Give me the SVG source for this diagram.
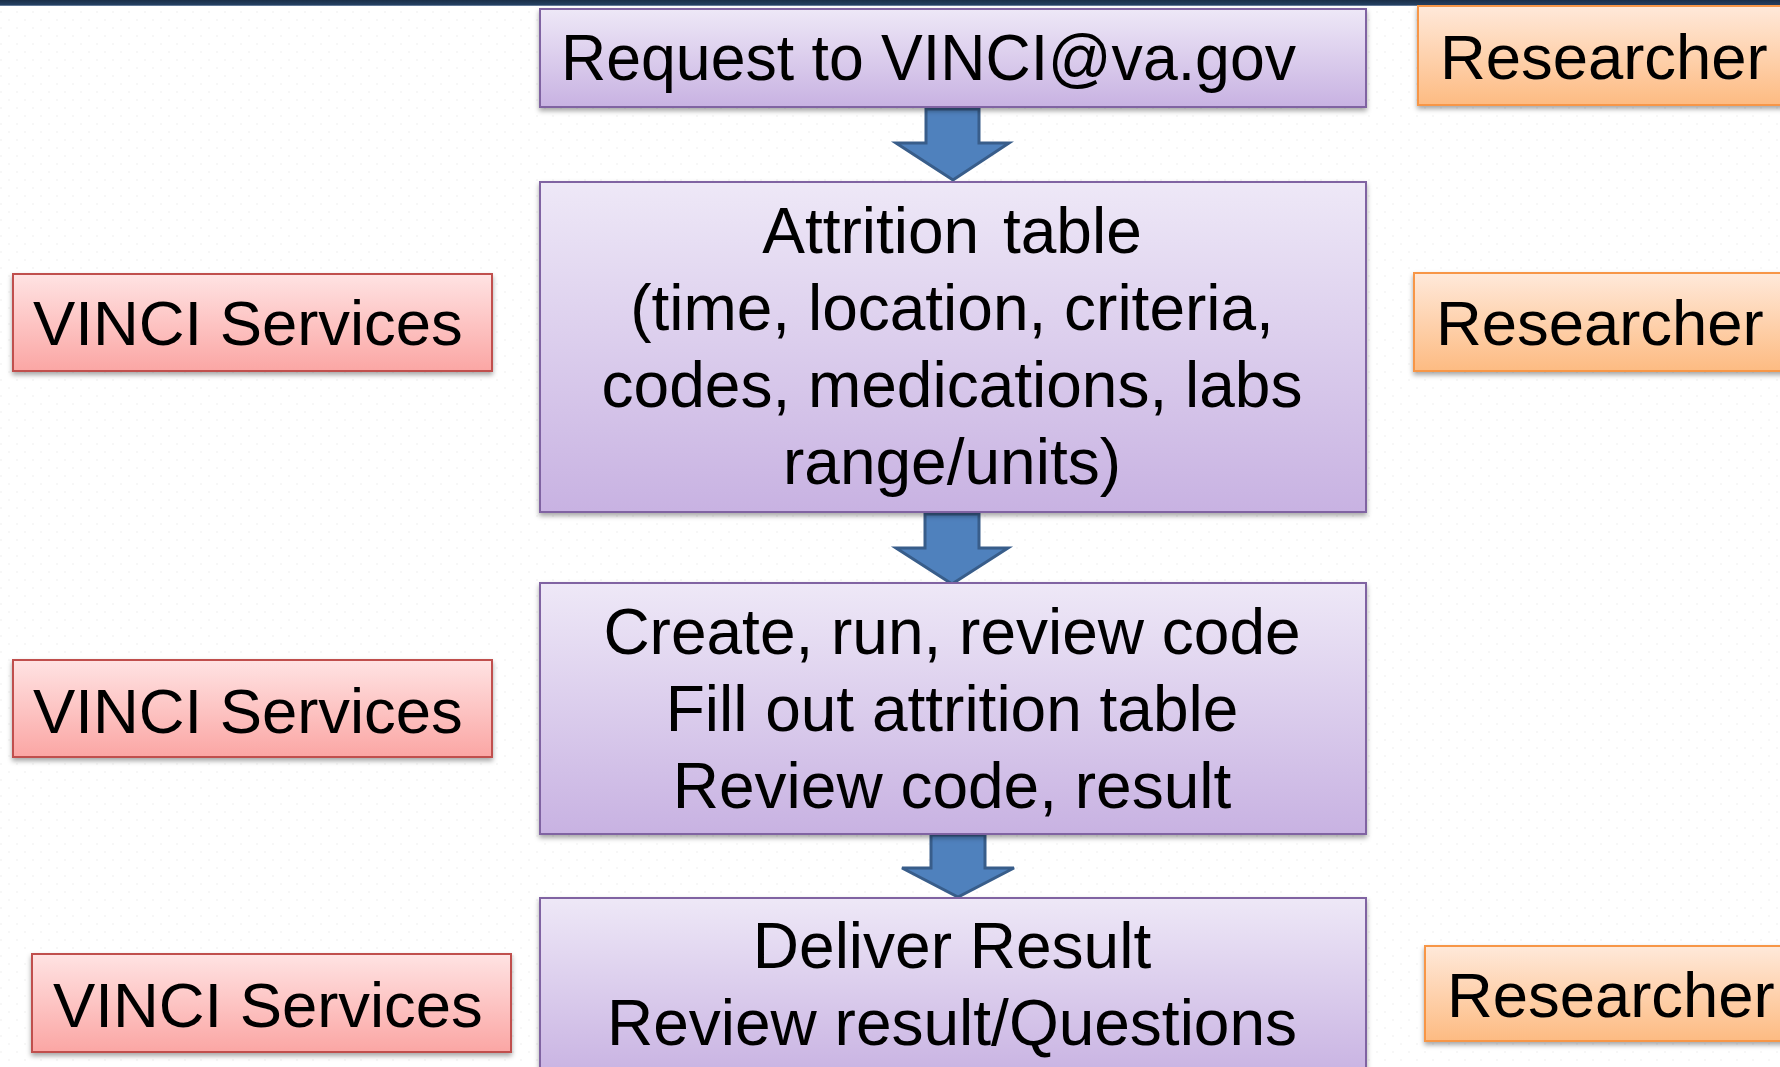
<svg xmlns="http://www.w3.org/2000/svg" width="1780" height="1067" viewBox="0 0 1780 1067">
<defs>
<linearGradient id="gPurple" x1="0" y1="0" x2="0" y2="1"><stop offset="0" stop-color="#EEE8F7"/><stop offset="1" stop-color="#C8B2E2"/></linearGradient>
<linearGradient id="gRed" x1="0" y1="0" x2="0" y2="1"><stop offset="0" stop-color="#FFE3E3"/><stop offset="1" stop-color="#FBA6A4"/></linearGradient>
<linearGradient id="gOrange" x1="0" y1="0" x2="0" y2="1"><stop offset="0" stop-color="#FFE9DA"/><stop offset="1" stop-color="#FDBB82"/></linearGradient>
<linearGradient id="gBar" x1="0" y1="0" x2="0" y2="1"><stop offset="0" stop-color="#1A2E47"/><stop offset="0.75" stop-color="#243F60"/><stop offset="1" stop-color="#8095B3"/></linearGradient>
<filter id="sh" x="-5%" y="-10%" width="110%" height="130%"><feDropShadow dx="0" dy="3" stdDeviation="2.5" flood-color="#000" flood-opacity="0.35"/></filter>
<pattern id="dots" width="16" height="16" patternUnits="userSpaceOnUse"><circle cx="9" cy="4" r="0.8" fill="#EDEDED"/><circle cx="1" cy="12" r="0.8" fill="#EDEDED"/></pattern>
</defs>
<style>
.t{font-family:"Liberation Sans",Arial,sans-serif;font-size:64px;fill:#000}
.s{font-size:63.4px}
.c{text-anchor:middle}
.p{fill:url(#gPurple);stroke:#8064A2;stroke-width:2;filter:url(#sh)}
.r{fill:url(#gRed);stroke:#C0504D;stroke-width:2;filter:url(#sh)}
.o{fill:url(#gOrange);stroke:#F79646;stroke-width:2;filter:url(#sh)}
.a{fill:#4F81BD;stroke:#385D8A;stroke-width:3;stroke-linejoin:miter}
</style>
<rect width="1780" height="1067" fill="#FFFFFF"/>
<rect width="1780" height="1067" fill="url(#dots)"/>
<rect x="0" y="0" width="1780" height="6" fill="url(#gBar)"/>

<g id="connectors">
<path class="a" d="M926,109 H979 V143 H1009 L953,180 L896,143 H926 Z"/>
<path class="a" d="M925,514 H979 V548 H1008 L952,584 L896,548 H925 Z"/>
<path class="a" d="M931,835 H985 V868 H1014 L958,897 L902,868 H931 Z"/>
</g>

<g id="request">
<rect class="p" x="540" y="9" width="826" height="98"/>
<text class="t" x="561" y="80" textLength="735" lengthAdjust="spacingAndGlyphs">Request to VINCI@va.gov</text>
</g>
<g id="attrition">
<rect class="p" x="540" y="182" width="826" height="330"/>
<text class="t c" x="952" y="253">Attrition <tspan dx="6">table</tspan></text>
<text class="t c" x="952" y="330">(time, location, criteria,</text>
<text class="t c" x="952" y="407">codes, medications, labs</text>
<text class="t c" x="952" y="484">range/units)</text>
</g>
<g id="create">
<rect class="p" x="540" y="583" width="826" height="251"/>
<text class="t c" x="952" y="654">Create, run, review code</text>
<text class="t c" x="952" y="731">Fill out attrition table</text>
<text class="t c" x="952" y="808">Review code, result</text>
</g>
<g id="deliver">
<rect class="p" x="540" y="898" width="826" height="180"/>
<text class="t c" x="952" y="968">Deliver Result</text>
<text class="t c" x="952" y="1045">Review result/Questions</text>
</g>

<g id="vinci1">
<rect class="r" x="13" y="274" width="479" height="97"/>
<text class="t s" x="33" y="345">VINCI Services</text>
</g>
<g id="vinci2">
<rect class="r" x="13" y="660" width="479" height="97"/>
<text class="t s" x="33" y="733">VINCI Services</text>
</g>
<g id="vinci3">
<rect class="r" x="32" y="954" width="479" height="98"/>
<text class="t s" x="53" y="1027">VINCI Services</text>
</g>

<g id="researcher1">
<rect class="o" x="1418" y="6" width="380" height="99"/>
<text class="t s" x="1440" y="79">Researcher</text>
</g>
<g id="researcher2">
<rect class="o" x="1414" y="273" width="380" height="98"/>
<text class="t s" x="1436" y="345">Researcher</text>
</g>
<g id="researcher3">
<rect class="o" x="1425" y="946" width="380" height="95"/>
<text class="t s" x="1447" y="1017">Researcher</text>
</g>
</svg>
